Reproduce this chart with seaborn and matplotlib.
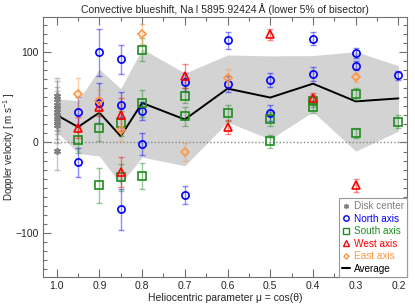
import matplotlib.pyplot as plt
import matplotlib.ticker as ticker
from matplotlib.lines import Line2D
import numpy as np
import pandas as pd
import seaborn as sns

# Disk center measurements (mu = 1)
disk_mu = [1.0, 1.0, 1.0, 1.0, 1.0, 1.0, 1.0, 1.0, 1.0]
disk_v = [51, 48, 41, 37, 34, 29, 24, 19, -9]
disk_err = [20, 20, 20, 20, 20, 20, 20, 20, 22]

# North axis
north_mu = [0.95, 0.95, 0.9, 0.9, 0.85, 0.85, 0.85, 0.8, 0.8, 0.7, 0.7,
            0.6, 0.6, 0.5, 0.5, 0.4, 0.4, 0.3, 0.3, 0.2]
north_v = [34, -22, 100, 44, 92, 42, -74, 35, -1.5, 67.5, -58.6,
           113, 64.5, 69, 33, 115, 76, 99.6, 84.8, 74.5]
north_err = [16, 16, 26, 22, 16, 14, 23, 10, 12, 10, 10,
             9, 9, 8, 9, 7.5, 7.5, 5.5, 5, 5]

# South axis
south_mu = [0.95, 0.9, 0.9, 0.85, 0.85, 0.8, 0.8, 0.8, 0.7, 0.7,
            0.6, 0.5, 0.5, 0.4, 0.4, 0.3, 0.3, 0.2]
south_v = [3.3, 16.6, -47.6, 21.4, -38.3, 103, 43.5, -37, 52, 28.8,
           33, 25.8, 1.1, 46, 39.8, 53.8, 10.3, 23.2]
south_err = [15, 15, 19, 14, 15, 13, 15, 14, 8, 11,
             9, 8, 7, 7, 7, 6.5, 5.5, 7]

# West axis
west_mu = [0.95, 0.9, 0.85, 0.85, 0.7, 0.6, 0.5, 0.4, 0.3]
west_v = [16.6, 39.5, 31, -32.8, 73.7, 17, 120, 49, -47.6]
west_err = [12, 10, 18, 17, 13, 8, 6, 6, 7]

# East axis
east_mu = [0.95, 0.9, 0.85, 0.8, 0.7, 0.6, 0.3]
east_v = [54, 46, 14, 120, -10.3, 71, 72.3]
east_err = [17, 12, 12, 11, 10, 10, 5]

sns.set_style('ticks')
plt.rcParams['font.family'] = ['Liberation Sans', 'DejaVu Sans']
plt.rcParams['mathtext.default'] = 'regular'

fig, ax = plt.subplots(figsize=(4.15, 3.06), dpi=100)
fig.subplots_adjust(left=0.1036, right=0.9807, bottom=0.0948, top=0.9444)

# average and standard deviation band (disk center at mu=1, axes elsewhere)
all_df = pd.DataFrame({
    'mu': disk_mu + north_mu + south_mu + west_mu + east_mu,
    'v': disk_v + north_v + south_v + west_v + east_v,
})
stats = all_df.groupby('mu')['v'].agg(['mean', 'std']).reset_index()
ax.fill_between(stats['mu'], stats['mean'] - stats['std'], stats['mean'] + stats['std'],
                color='#d3d3d3', linewidth=0, zorder=0.5)
sns.lineplot(data=stats, x='mu', y='mean', color='black', linewidth=1.4,
             legend=False, ax=ax, zorder=2)

ax.axhline(0, color='#888888', linestyle=(0, (1, 1.5)), linewidth=1, zorder=1)

series = [
    (disk_mu, disk_v, disk_err, '#808080', (6, 2, 0), 5, 'Disk center'),
    (north_mu, north_v, north_err, '#0000ff', 'o', 5.2, 'North axis'),
    (south_mu, south_v, south_err, '#1e8c1e', 's', 5.2, 'South axis'),
    (west_mu, west_v, west_err, '#ff0000', '^', 5.2, 'West axis'),
    (east_mu, east_v, east_err, '#ff9640', 'D', 3.6, 'East axis'),
]

handles = []
for mu, v, err, color, marker, ms, label in series:
    ax.errorbar(mu, v, yerr=err, fmt='none', ecolor=color, alpha=0.45,
                capsize=2.5, elinewidth=1, capthick=1, zorder=3)
    ax.plot(mu, v, linestyle='none', marker=marker, markersize=ms,
            markerfacecolor='none', markeredgecolor=color, markeredgewidth=1.2,
            zorder=4)
    handles.append(Line2D([0], [0], linestyle='none', marker=marker,
                          markersize=ms * 0.75, markerfacecolor='none',
                          markeredgecolor=color, markeredgewidth=1, label=label))
handles.append(Line2D([0], [0], color='black', linewidth=1.5, label='Average'))

ax.set_xlim(1.032, 0.18)
ax.set_ylim(-149, 139)
ax.xaxis.set_major_locator(ticker.MultipleLocator(0.1))
ax.xaxis.set_minor_locator(ticker.MultipleLocator(0.05))
ax.xaxis.set_major_formatter(ticker.FormatStrFormatter('%.1f'))
ax.yaxis.set_major_locator(ticker.MultipleLocator(100))
ax.yaxis.set_minor_locator(ticker.MultipleLocator(10))
ax.tick_params(which='both', direction='in', top=True, right=True,
               color='#707070', labelsize=7.5, pad=3)
ax.tick_params(which='major', length=6, width=0.8)
ax.tick_params(which='minor', length=3, width=0.8)
for sp in ax.spines.values():
    sp.set_color('#707070')
    sp.set_linewidth(0.8)

ax.set_title('Convective blueshift, Na\u2009I 5895.92424\u2009Å (lower 5% of bisector)',
             fontsize=7.5, pad=3)
ax.set_xlabel('Heliocentric parameter \u03bc = cos(\u03b8)', fontsize=7.5, labelpad=1)
ax.set_ylabel('Doppler velocity [ m s$^{-1}$ ]', fontsize=7, labelpad=0)
ax.yaxis.set_label_coords(-0.072, 0.5)

leg = ax.legend(handles=handles, loc='lower right', bbox_to_anchor=(1, 0),
                borderaxespad=0, fontsize=7.2, frameon=True, fancybox=False,
                edgecolor='#999999', framealpha=1, handlelength=0.8,
                handletextpad=0.4, labelspacing=0.25, borderpad=0.3)
leg.get_frame().set_linewidth(0.8)
for txt, h in zip(leg.get_texts(), handles):
    c = h.get_markeredgecolor() if h.get_marker() not in (None, 'None') else 'black'
    txt.set_color(c)

fig.savefig('out.png', dpi=100)
